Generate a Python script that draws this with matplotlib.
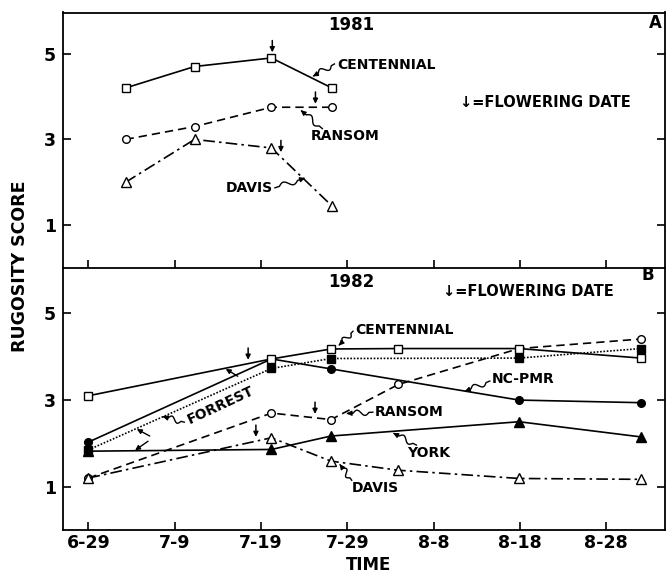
import matplotlib
matplotlib.use('Agg')
import matplotlib.pyplot as plt
import numpy as np

plt.rcParams['font.family'] = ['DejaVu Sans']
plt.rcParams['font.weight'] = 'bold'

# ---------------- data (x = days after June 29) ----------------
tick_days = [0, 10, 20, 30, 40, 50, 60]
tick_labels = ['6-29', '7-9', '7-19', '7-29', '8-8', '8-18', '8-28']
y_ticks = [1, 3, 5]

# 1981
days_81 = [4.3, 12.3, 21.2, 28.2]
centennial_81 = [4.2, 4.7, 4.9, 4.2]
ransom_81 = [3.0, 3.3, 3.75, 3.75]
davis_81 = [2.0, 3.0, 2.8, 1.45]
flower_days_81 = [21.3, 26.3, 22.3]
flower_scores_81 = [4.95, 3.75, 2.62]

# 1982
days_82 = [0, 21.2, 28.1, 35.9, 49.9, 64.0]
centennial_82 = [3.1, 3.95, 4.18, 4.19, 4.19, 3.97]
ransom_82 = [1.2, 2.7, 2.55, 3.36, 4.19, 4.41]
davis_82 = [1.2, 2.13, 1.59, 1.38, 1.19, 1.17]
days_82_b = [0, 21.2, 28.1, 49.9, 64.0]
ncpmr_82 = [2.03, 3.95, 3.72, 3.0, 2.94]
york_82 = [1.82, 1.86, 2.17, 2.5, 2.15]
forrest_82 = [1.85, 3.73, 3.96, 3.97, 4.19]
flower_days_82 = [18.5, 26.25, 19.4]
flower_scores_82 = [3.85, 2.6, 2.07]

# ---------------- figure ----------------
fig = plt.figure(figsize=(6.67, 5.73), dpi=100)
axA = fig.add_axes([63/667, 1-268/573, 602/667, 255.5/573])
axB = fig.add_axes([63/667, 1-530/573, 602/667, 262/573])

XLIM = (-2.95, 66.8)
for ax, ylim in ((axA, (0, 5.96)), (axB, (0, 6.05))):
    ax.set_xlim(*XLIM)
    ax.set_ylim(*ylim)
    ax.set_xticks(tick_days)
    ax.set_yticks(y_ticks)
    ax.set_yticklabels([str(v) for v in y_ticks], fontsize=12.5, fontweight='bold')
    ax.tick_params(direction='in', length=6, width=1.2, right=True, top=False, pad=5)
    for s in ax.spines.values():
        s.set_linewidth(1.3)
axA.tick_params(labelbottom=False)
axA.spines['bottom'].set_visible(False)
axB.set_xticklabels(tick_labels, fontsize=12.5, fontweight='bold')
axB.tick_params(axis='x', pad=3)

lw = 1.2
def line(ax, x, y, ls, marker, filled, ms):
    ax.plot(x, y, color='k', lw=lw, linestyle=ls, marker=marker, ms=ms,
            mfc='k' if filled else 'white', mec='k', mew=1.0, clip_on=False, zorder=3)

dashed = (0, (5, 3))
dashdot = (0, (7, 2.5, 1.5, 2.5))
dotted = (0, (1, 1))

# Panel A
line(axA, days_81, centennial_81, '-', 's', False, 5.5)
line(axA, days_81, ransom_81, dashed, 'o', False, 5.5)
line(axA, days_81, davis_81, dashdot, '^', False, 7)

# Panel B
line(axB, days_82_b, forrest_82, dotted, 's', True, 5.5)
line(axB, days_82, ransom_82, dashed, 'o', False, 5.5)
line(axB, days_82, davis_82, dashdot, '^', False, 7)
line(axB, days_82_b, york_82, '-', '^', True, 7)
line(axB, days_82_b, ncpmr_82, '-', 'o', True, 5.5)
line(axB, days_82, centennial_82, '-', 's', False, 5.5)

arrow_kw = dict(arrowstyle='-|>', color='k', lw=1.0, mutation_scale=7, shrinkA=0, shrinkB=0)

def flower(ax, days, scores):
    for d, s in zip(days, scores):
        ax.annotate('', xy=(d, s), xycoords='data', xytext=(0, 11), textcoords='offset points',
                    arrowprops=dict(arrowstyle='-|>', color='k', lw=1.1, mutation_scale=7,
                                    shrinkA=0, shrinkB=2.5))

flower(axA, flower_days_81, flower_scores_81)
flower(axB, flower_days_82, flower_scores_82)

def leader(ax, p0, p1, amp=2.8, waves=1.0):
    P0 = ax.transData.transform(p0)
    P1 = ax.transData.transform(p1)
    d = P1 - P0
    L = np.hypot(*d)
    u = d / L
    n = np.array([-u[1], u[0]])
    t = np.linspace(0, 1, 80)
    off = np.where((t > 0.15) & (t < 0.75), amp*np.sin(2*np.pi*waves*(t-0.15)/0.6), 0.0)
    pts = P0 + np.outer(t, d) + np.outer(off, n)
    data = ax.transData.inverted().transform(pts)
    ax.plot(data[:-3, 0], data[:-3, 1], color='k', lw=1.0, clip_on=False, zorder=4)
    ax.annotate('', xy=p1, xytext=tuple(data[-10]), arrowprops=arrow_kw)

def small_arrow(ax, tail, tip):
    ax.annotate('', xy=tip, xytext=tail, arrowprops=arrow_kw)

fs = 10
# Panel A texts
axA.text(30.5, 5.66, '1981', fontsize=12, ha='center', va='center')
axA.text(65.7, 5.72, 'A', fontsize=12, ha='center', va='center')
axA.text(28.8, 4.73, 'CENTENNIAL', fontsize=fs, ha='left', va='center')
leader(axA, (28.5, 4.76), (26.0, 4.47))
axA.text(25.7, 3.08, 'RANSOM', fontsize=fs, ha='left', va='center')
leader(axA, (27.1, 3.25), (24.6, 3.68))
axA.text(21.4, 1.87, 'DAVIS', fontsize=fs, ha='right', va='center')
leader(axA, (21.6, 1.87), (25.1, 2.1))
axA.text(43.0, 3.87, '\u2193=FLOWERING DATE', fontsize=10.5, ha='left', va='center')

# Panel B texts
axB.text(30.5, 5.73, '1982', fontsize=12, ha='center', va='center')
axB.text(64.8, 5.88, 'B', fontsize=12, ha='center', va='center')
axB.text(41.1, 5.5, '\u2193=FLOWERING DATE', fontsize=10.5, ha='left', va='center')
axB.text(30.9, 4.61, 'CENTENNIAL', fontsize=fs, ha='left', va='center')
leader(axB, (30.65, 4.59), (29.0, 4.26))
axB.text(46.7, 3.48, 'NC-PMR', fontsize=fs, ha='left', va='center')
leader(axB, (46.5, 3.44), (43.6, 3.2))
axB.text(33.2, 2.73, 'RANSOM', fontsize=fs, ha='left', va='center')
leader(axB, (32.95, 2.72), (29.9, 2.69))
axB.text(36.9, 1.78, 'YORK', fontsize=fs, ha='left', va='center')
leader(axB, (38.0, 1.96), (35.3, 2.24))
axB.text(30.5, 0.96, 'DAVIS', fontsize=fs, ha='left', va='center')
leader(axB, (30.5, 1.15), (29.1, 1.52))
axB.text(15.3, 2.88, 'FORREST', fontsize=fs, ha='center', va='center', rotation=25)
leader(axB, (11.1, 2.49), (8.6, 2.62))
small_arrow(axB, (17.3, 3.55), (15.9, 3.72))
small_arrow(axB, (7.1, 2.17), (5.6, 2.33))
small_arrow(axB, (6.9, 2.05), (5.4, 1.84))

fig.text(0.030, 0.535, 'RUGOSITY SCORE', rotation=90, fontsize=12.5, ha='center', va='center')
fig.text(0.552, 0.014, 'TIME', fontsize=12, ha='center', va='center')

fig.savefig('out.png', dpi=100)
